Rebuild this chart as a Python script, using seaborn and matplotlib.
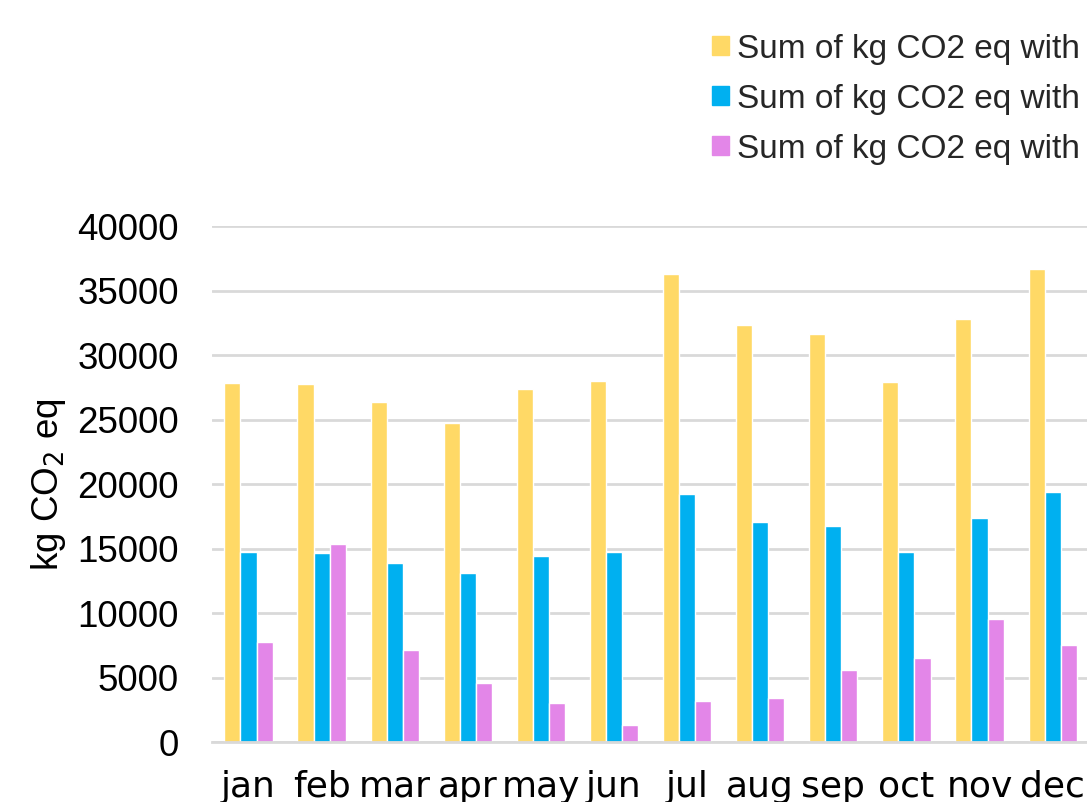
import pandas as pd
import matplotlib.pyplot as plt
import seaborn as sns

# --- valeurs ---
MOIS = ['jan', 'feb', 'mar', 'apr', 'may', 'jun', 'jul', 'aug', 'sep', 'oct', 'nov', 'dec']
SERIE_1 = [27850, 27750, 26350, 24750, 27350, 27950, 36300, 32300, 31650, 27900, 32800, 36650]
SERIE_2 = [14700, 14650, 13900, 13100, 14450, 14750, 19200, 17050, 16750, 14750, 17350, 19350]
SERIE_3 = [7750, 15350, 7150, 4600, 3000, 1350, 3200, 3450, 5600, 6550, 9550, 7550]
LABELS = ['Sum of kg CO2 eq with Baseline', 'Sum of kg CO2 eq with Battery',
          'Sum of kg CO2 eq with all']
COULEURS = ['#FFD966', '#00B0F0', '#E386E8']
Y_TICKS = [0, 5000, 10000, 15000, 20000, 25000, 30000, 35000, 40000]

sns.set_theme(style="white")
plt.rcParams['font.family'] = ['Liberation Sans', 'DejaVu Sans']

df = pd.DataFrame({'mois': MOIS * 3,
                   'valeur': SERIE_1 + SERIE_2 + SERIE_3,
                   'serie': [LABELS[0]] * 12 + [LABELS[1]] * 12 + [LABELS[2]] * 12})

fig = plt.figure(figsize=(10.87, 8.02), dpi=100)
ax = fig.add_axes([0.195, 0.0748, 0.807, 0.6434])

sns.barplot(data=df, x='mois', y='valeur', hue='serie', hue_order=LABELS,
            palette=COULEURS, saturation=1, width=0.66, edgecolor='white',
            linewidth=1, ax=ax, legend=False)

ax.set_xlim(-0.5, 11.5)
ax.set_ylim(0, 40000)
ax.set_yticks(Y_TICKS)
ax.set_yticklabels([str(t) for t in Y_TICKS])
ax.yaxis.grid(True, color='#D9D9D9', linewidth=2)
ax.set_axisbelow(True)
for s in ['top', 'right', 'left']:
    ax.spines[s].set_visible(False)
ax.spines['bottom'].set_color('#D9D9D9')
ax.spines['bottom'].set_linewidth(2)
ax.tick_params(axis='both', length=0)
ax.tick_params(axis='y', labelsize=26.5, pad=24, labelcolor='black')
ax.tick_params(axis='x', labelsize=26, pad=20, labelcolor='black')
for lab in ax.get_xticklabels():
    lab.set_family(['Liberation Sans Narrow', 'DejaVu Sans'])

ax.set_xlabel('')
ax.set_ylabel('kg CO$_2$ eq', fontsize=26.5, color='black')
ax.yaxis.set_label_coords(-0.164, 0.498)

handles = [plt.Rectangle((0, 0), 1, 1, color=c) for c in COULEURS]
fig.legend(handles, LABELS, loc='upper left', bbox_to_anchor=(0.655, 0.958),
           frameon=False, fontsize=24, handlelength=0.5, handleheight=0.5,
           handletextpad=0.25, labelspacing=0.57, borderpad=0, borderaxespad=0,
           labelcolor='#262626')

plt.savefig('out.png', dpi=100)
plt.close()
